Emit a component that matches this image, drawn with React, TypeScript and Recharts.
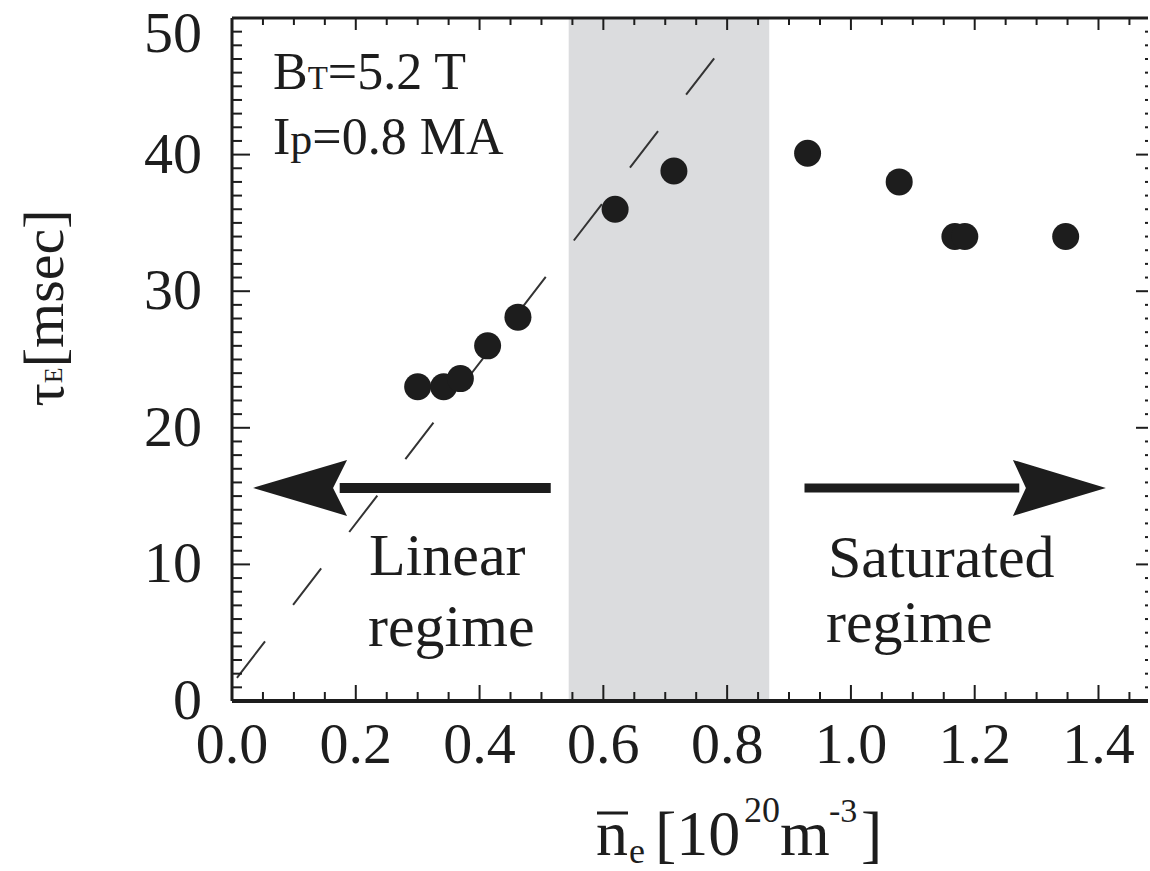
import {
  ComposedChart,
  Scatter,
  XAxis,
  YAxis,
  ReferenceArea,
  ReferenceLine,
  ReferenceDot,
  Customized,
} from 'recharts';

// line-averaged density [1e20 m^-3] and energy confinement time [msec]
const density = [0.3, 0.342, 0.369, 0.413, 0.462, 0.619, 0.714, 0.93, 1.078, 1.168, 1.184, 1.347];
const tauE = [23.0, 23.0, 23.6, 26.0, 28.1, 36.0, 38.8, 40.1, 38.0, 34.0, 34.0, 34.0];

// linear scaling fit (dashed)
const fitX = [0.008, 0.785];
const fitY = [1.7, 47.4];

// transition region
const bandX = [0.544, 0.868];

// regime arrows: [tip, tail] in density, at one tau level
const arrowY = 15.6;
const linearArrow = [0.034, 0.515];
const saturatedArrow = [1.412, 0.925];

const xMajor = [0, 0.2, 0.4, 0.6, 0.8, 1.0, 1.2, 1.4];
const xTicks = Array.from({ length: 30 }, (_, i) => +(i * 0.05).toFixed(2));
const yTicks = Array.from({ length: 51 }, (_, i) => i);

const points = density.map((x, i) => ({ x, y: tauE[i] }));

const W = 1150;
const H = 871;
const LEFT = 232;
const TOP = 18;
const RIGHT = 2;
const XAXIS_H = 170;
const PLOT_W = W - LEFT - RIGHT;
const PLOT_H = H - TOP - XAXIS_H;

const INK = '#1d1d1d';
const FONT = "'Liberation Serif', 'Times New Roman', serif";

const isMajorX = (v: number) => xMajor.some((m) => Math.abs(m - v) < 1e-6);

const XTick = (props: any) => {
  const { x, y, payload } = props;
  const major = isMajorX(payload.value);
  return (
    <g>
      <line x1={x} x2={x} y1={y} y2={y - (major ? 16 : 9)} stroke={INK} strokeWidth={2} />
      <line x1={x} x2={x} y1={y - PLOT_H} y2={y - PLOT_H + (major ? 12 : 7)} stroke={INK} strokeWidth={2} />
      {major && (
        <text x={x} y={y + 62} textAnchor="middle" fontSize={58} fill={INK} fontFamily={FONT}>
          {payload.value.toFixed(1)}
        </text>
      )}
    </g>
  );
};

const YTick = (props: any) => {
  const { x, y, payload } = props;
  const major = payload.value % 10 === 0;
  // the top label sits a little lower so it stays inside the frame
  const shift = payload.value === 50 ? 16 : 0;
  return (
    <g>
      <line x1={x} x2={x + (major ? 18 : 10)} y1={y} y2={y} stroke={INK} strokeWidth={2} />
      <line x1={x + PLOT_W} x2={x + PLOT_W - (major ? 12 : 3)} y1={y} y2={y} stroke={INK} strokeWidth={2} />
      {major && (
        <text x={x - 30} y={y + 18 + shift} textAnchor="end" fontSize={58} fill={INK} fontFamily={FONT}>
          {payload.value}
        </text>
      )}
    </g>
  );
};

const Dot = (props: any) => <circle cx={props.cx} cy={props.cy} r={13.5} fill={INK} />;

const headLeft = (p: any) => (
  <polygon
    points={`${p.cx},${p.cy} ${p.cx + 94},${p.cy - 28} ${p.cx + 80},${p.cy} ${p.cx + 94},${p.cy + 28}`}
    fill={INK}
  />
);
const headRight = (p: any) => (
  <polygon
    points={`${p.cx},${p.cy} ${p.cx - 93},${p.cy - 28} ${p.cx - 80},${p.cy} ${p.cx - 93},${p.cy + 28}`}
    fill={INK}
  />
);

const Annotations = () => (
  <g fontFamily={FONT} fill={INK}>
    <text x={273} y={89} fontSize={52}>
      B<tspan fontSize={33}>T</tspan>=5.2 T
    </text>
    <text x={273} y={154} fontSize={52}>
      I<tspan fontSize={44}>p</tspan>=0.8 MA
    </text>
    <text x={369} y={575} fontSize={60}>Linear</text>
    <text x={368} y={646} fontSize={60}>regime</text>
    <text x={828} y={577} fontSize={60}>Saturated</text>
    <text x={826} y={642} fontSize={60}>regime</text>
    <text
      x={43}
      y={308}
      transform="rotate(-90, 43, 308)"
      textAnchor="middle"
      dominantBaseline="central"
      fontSize={58}
    >
      τ<tspan fontSize={26} dy={10}>E</tspan>
      <tspan dy={-10}>[msec]</tspan>
    </text>
    <line x1={597} x2={628} y1={813} y2={813} stroke={INK} strokeWidth={3} />
    <text y={855} fontSize={64}>
      <tspan x={596}>n</tspan>
      <tspan x={629} y={863} fontSize={36}>e</tspan>
      <tspan x={655} y={855}>[10</tspan>
      <tspan x={744} y={822} fontSize={36}>20</tspan>
      <tspan x={780} y={855}>m</tspan>
      <tspan x={829} y={822} fontSize={34}>-3</tspan>
      <tspan x={861} y={855}>]</tspan>
    </text>
  </g>
);

export default function App() {
  return (
    <div style={{ position: 'absolute', left: 0, top: 0, background: '#fff' }}>
      <ComposedChart width={W} height={H} margin={{ top: TOP, right: RIGHT, bottom: 0, left: 0 }}>
        <ReferenceArea x1={bandX[0]} x2={bandX[1]} y1={0} y2={50} fill="#dbdcde" fillOpacity={1} stroke="none" />
        <XAxis
          type="number"
          dataKey="x"
          domain={[0, 1.48]}
          ticks={xTicks}
          interval={0}
          height={XAXIS_H}
          tickSize={0}
          tickMargin={0}
          tick={<XTick />}
          axisLine={{ stroke: INK, strokeWidth: 4 }}
          allowDataOverflow
        />
        <YAxis
          type="number"
          dataKey="y"
          domain={[0, 50]}
          ticks={yTicks}
          interval={0}
          width={LEFT}
          tickSize={0}
          tickMargin={0}
          tick={<YTick />}
          axisLine={{ stroke: INK, strokeWidth: 3 }}
          allowDataOverflow
        />
        <ReferenceLine y={50} stroke={INK} strokeWidth={3} />
        <ReferenceLine
          segment={[
            { x: fitX[0], y: fitY[0] },
            { x: fitX[1], y: fitY[1] },
          ]}
          stroke="#333"
          strokeWidth={2}
          strokeDasharray="46 46"
        />
        <ReferenceLine
          segment={[
            { x: linearArrow[0] + 0.14, y: arrowY },
            { x: linearArrow[1], y: arrowY },
          ]}
          stroke={INK}
          strokeWidth={10}
        />
        <ReferenceDot x={linearArrow[0]} y={arrowY} shape={headLeft} />
        <ReferenceLine
          segment={[
            { x: saturatedArrow[1], y: arrowY },
            { x: saturatedArrow[0] - 0.14, y: arrowY },
          ]}
          stroke={INK}
          strokeWidth={9}
        />
        <ReferenceDot x={saturatedArrow[0]} y={arrowY} shape={headRight} />
        <Scatter data={points} shape={<Dot />} isAnimationActive={false} />
        <Customized component={<Annotations />} />
      </ComposedChart>
    </div>
  );
}
